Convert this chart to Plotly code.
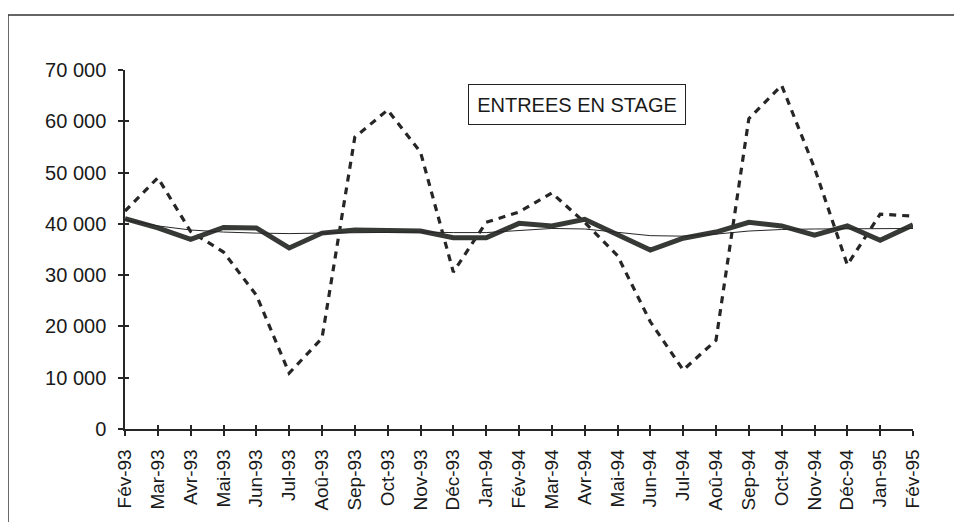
import plotly.graph_objects as go

months = ["Fév-93", "Mar-93", "Avr-93", "Mai-93", "Jun-93", "Jul-93", "Aoû-93", "Sep-93",
          "Oct-93", "Nov-93", "Déc-93", "Jan-94", "Fév-94", "Mar-94", "Avr-94", "Mai-94",
          "Jun-94", "Jul-94", "Aoû-94", "Sep-94", "Oct-94", "Nov-94", "Déc-94", "Jan-95", "Fév-95"]

brut = [42500, 49000, 38500, 34500, 26100, 10900, 17700, 56900, 62200, 54000, 30600, 40300,
        42300, 46000, 40300, 33800, 20900, 11500, 17300, 60500, 67000, 50900, 32000, 41900, 41500]

cvs = [41000, 39200, 37000, 39300, 39200, 35300, 38200, 38800, 38700, 38600, 37300, 37300,
       40100, 39600, 40900, 37800, 34900, 37200, 38400, 40300, 39600, 37800, 39600, 36800, 39800]

tendance = [40800, 39600, 38800, 38400, 38200, 38100, 38200, 38300, 38400, 38400, 38300, 38300,
            38700, 39100, 39000, 38300, 37700, 37600, 38000, 38600, 38900, 39000, 39000, 39000, 39100]

y_ticks = [0, 10000, 20000, 30000, 40000, 50000, 60000, 70000]
y_labels = ["0", "10 000", "20 000", "30 000", "40 000", "50 000", "60 000", "70 000"]

title_text = "ENTREES EN STAGE"

ink = "#262626"
font = "Liberation Sans, Arial, sans-serif"

fig = go.Figure()
fig.add_trace(go.Scatter(x=months, y=brut, mode="lines",
                         line=dict(color=ink, width=3.2, dash="7px,6px"), showlegend=False))
# trend drawn on overlay axes (which carry the inner half of the crossing ticks)
fig.add_trace(go.Scatter(x=months, y=tendance, mode="lines", xaxis="x2", yaxis="y2",
                         line=dict(color=ink, width=1), showlegend=False))
fig.add_trace(go.Scatter(x=months, y=cvs, mode="lines",
                         line=dict(color="#363936", width=5), showlegend=False))

n = len(months)
fig.update_layout(
    width=946, height=514,
    margin=dict(l=117, r=41, t=62, b=93),
    paper_bgcolor="white", plot_bgcolor="white",
    font=dict(family=font, color="#1a1a1a"),
    xaxis=dict(type="category", range=[0, n - 1], tickangle=-90, automargin=False,
               showline=True, linecolor=ink, linewidth=1.5, ticks="outside", ticklen=5,
               tickcolor=ink, tickwidth=1.5, showgrid=False, zeroline=False,
               tickfont=dict(size=19, family=font, color="#1a1a1a"), ticklabelstandoff=6),
    yaxis=dict(range=[0, 70000], tickvals=y_ticks, ticktext=y_labels, automargin=False,
               showline=True, linecolor=ink, linewidth=1.5, ticks="outside", ticklen=5,
               tickcolor=ink, tickwidth=1.5, showgrid=False, zeroline=False,
               tickfont=dict(size=20, family=font, color="#1a1a1a"), ticklabelstandoff=8),
    xaxis2=dict(type="category", overlaying="x", anchor="y2", range=[0, n - 1], automargin=False,
                ticks="inside", ticklen=4, tickwidth=1.5,
                tickcolor=ink, showticklabels=False, showline=False, showgrid=False, zeroline=False),
    yaxis2=dict(overlaying="y", anchor="x2", side="left", range=[0, 70000], tickvals=y_ticks,
                automargin=False, ticks="inside", ticklen=4, tickwidth=1.5, tickcolor=ink,
                showticklabels=False, showline=False, showgrid=False, zeroline=False),
    annotations=[dict(text=title_text, xref="paper", yref="paper", x=0.5736, y=0.904,
                      xanchor="center", yanchor="middle", showarrow=False,
                      font=dict(size=20, family=font, color="#1a1a1a"),
                      bordercolor="#222", borderwidth=1, borderpad=5, width=206, height=29,
                      bgcolor="white")],
    shapes=[dict(type="rect", xref="paper", yref="paper", x0=-0.1485, x1=1.2, y0=-0.5, y1=1.153,
                 line=dict(color="#333", width=1.5))],
)

fig.write_html("out.html")
